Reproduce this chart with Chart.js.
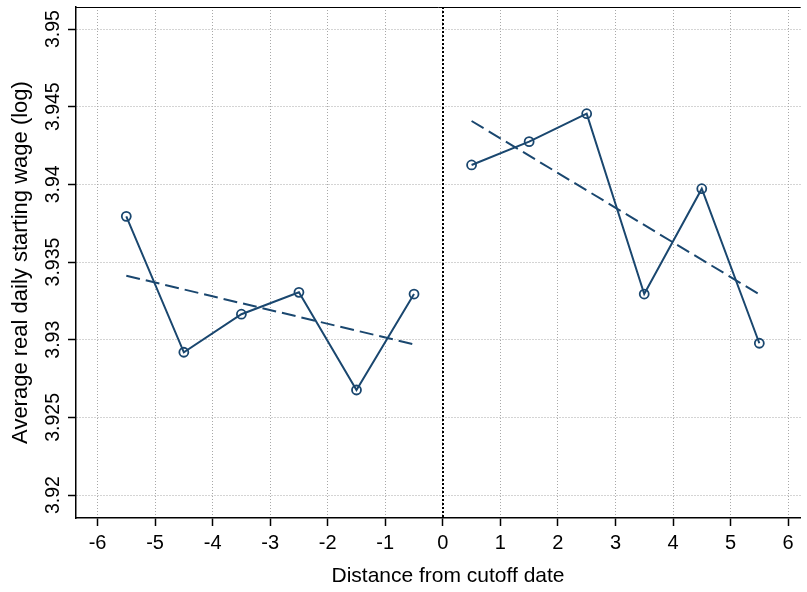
<!DOCTYPE html>
<html>
<head>
<meta charset="utf-8">
<script src="https://cdn.jsdelivr.net/npm/chart.js@4.4.1/dist/chart.umd.min.js"></script>
<style>
  html, body { margin: 0; padding: 0; background: #fff; }
  canvas { display: block; }
</style>
</head>
<body>
<canvas id="wageChart" width="807" height="592"></canvas>
<script>
// bins before / after the cutoff, mean log wage per bin
const beforeX = [-5.5, -4.5, -3.5, -2.5, -1.5, -0.5];
const beforeWage = [3.93794, 3.92919, 3.93164, 3.93305, 3.92676, 3.93294];
const afterX = [0.5, 1.5, 2.5, 3.5, 4.5, 5.5];
const afterWage = [3.94125, 3.94275, 3.94455, 3.93294, 3.93972, 3.92977];

// linear fits, read at the ends of each side
const beforeFitX = [-5.5, -0.5];
const beforeFit = [3.93412, 3.92970];
const afterFitX = [0.5, 5.5];
const afterFit = [3.94408, 3.93292];

const xTicks = [-6, -5, -4, -3, -2, -1, 0, 1, 2, 3, 4, 5, 6];
const xTickLabels = ['-6', '-5', '-4', '-3', '-2', '-1', '0', '1', '2', '3', '4', '5', '6'];
const yTicks = [3.92, 3.925, 3.93, 3.935, 3.94, 3.945, 3.95];
const yTickLabels = ['3.92', '3.925', '3.93', '3.935', '3.94', '3.945', '3.95'];
const cutoff = 0;
const xTitle = 'Distance from cutoff date';
const yTitle = 'Average real daily starting wage (log)';

const navy = '#1a476f';
const font = "'Liberation Sans', Arial, Helvetica, sans-serif";

function pts(xs, ys) {
    return xs.map((x, i) => ({ x: x, y: ys[i] }));
}

const frame = {
    id: 'frame',
    beforeDatasetsDraw(chart) {
        const { ctx, chartArea: a, scales: { x } } = chart;
        const px = Math.round(x.getPixelForValue(cutoff));
        ctx.save();
        // cutoff line
        ctx.strokeStyle = '#000';
        ctx.lineWidth = 2;
        ctx.setLineDash([2, 2]);
        ctx.beginPath();
        ctx.moveTo(px, a.top);
        ctx.lineTo(px, a.bottom);
        ctx.stroke();
        // top edge of plot region
        ctx.setLineDash([]);
        ctx.lineWidth = 1;
        ctx.beginPath();
        ctx.moveTo(a.left, a.top + 0.5);
        ctx.lineTo(a.right, a.top + 0.5);
        ctx.stroke();
        ctx.restore();
    },
    afterDraw(chart) {
        const { ctx, scales: { y } } = chart;
        ctx.save();
        ctx.fillStyle = '#000';
        // vertical tick labels on the y axis
        ctx.font = '19.5px ' + font;
        ctx.textAlign = 'center';
        ctx.textBaseline = 'alphabetic';
        y.ticks.forEach((t, i) => {
            ctx.save();
            ctx.translate(59, y.getPixelForValue(t.value));
            ctx.rotate(-Math.PI / 2);
            ctx.fillText(yTickLabels[i], 0, 0);
            ctx.restore();
        });
        // x title: the plot region is wider than the picture, so it sits a bit right of centre
        ctx.font = '21px ' + font;
        ctx.textBaseline = 'middle';
        ctx.fillText(xTitle, 448, 576);
        ctx.restore();
    }
};

const gridOpts = {
    color: '#a8a8a8',
    lineWidth: 1,
    tickLength: 8,
    tickColor: '#000',
    tickWidth: 1.5,
    tickBorderDash: []
};

new Chart(document.getElementById('wageChart'), {
    type: 'line',
    data: {
        datasets: [
            {
                data: pts(beforeX, beforeWage),
                borderColor: navy, borderWidth: 2,
                pointRadius: 4.5, pointBorderWidth: 1.8,
                pointBorderColor: navy, pointBackgroundColor: 'rgba(0,0,0,0)'
            },
            {
                data: pts(afterX, afterWage),
                borderColor: navy, borderWidth: 2,
                pointRadius: 4.5, pointBorderWidth: 1.8,
                pointBorderColor: navy, pointBackgroundColor: 'rgba(0,0,0,0)'
            },
            {
                data: pts(beforeFitX, beforeFit),
                borderColor: navy, borderWidth: 2, borderDash: [14, 6],
                pointRadius: 0
            },
            {
                data: pts(afterFitX, afterFit),
                borderColor: navy, borderWidth: 2, borderDash: [14, 6],
                pointRadius: 0
            }
        ]
    },
    options: {
        responsive: false,
        animation: false,
        layout: { padding: { top: 7, right: 0, bottom: 0, left: 0 } },
        elements: { line: { tension: 0 } },
        plugins: { legend: { display: false }, tooltip: { enabled: false } },
        scales: {
            x: {
                type: 'linear',
                min: -6.374,
                max: 6.219,
                afterBuildTicks: s => { s.ticks = xTicks.map(v => ({ value: v })); },
                afterFit: s => { s.height = 74; s.paddingLeft = 0; s.paddingRight = 0; },
                ticks: {
                    color: '#000', font: { family: font, size: 20 }, padding: 5,
                    maxRotation: 0, autoSkip: false,
                    callback: (v, i) => xTickLabels[i]
                },
                grid: gridOpts,
                border: { color: '#000', width: 1.5, dash: [1, 2] },
                title: { display: false }
            },
            y: {
                type: 'linear',
                min: 3.91852,
                max: 3.95142,
                afterBuildTicks: s => { s.ticks = yTicks.map(v => ({ value: v })); },
                afterFit: s => { s.width = 76; s.paddingTop = 0; s.paddingBottom = 0; },
                ticks: { display: false },
                grid: gridOpts,
                border: { color: '#000', width: 1.5, dash: [1, 2] },
                title: {
                    display: true, text: yTitle, color: '#000',
                    font: { family: font, size: 22 }, padding: { top: 8, bottom: 0 }
                }
            }
        }
    },
    plugins: [frame]
});
</script>
</body>
</html>
